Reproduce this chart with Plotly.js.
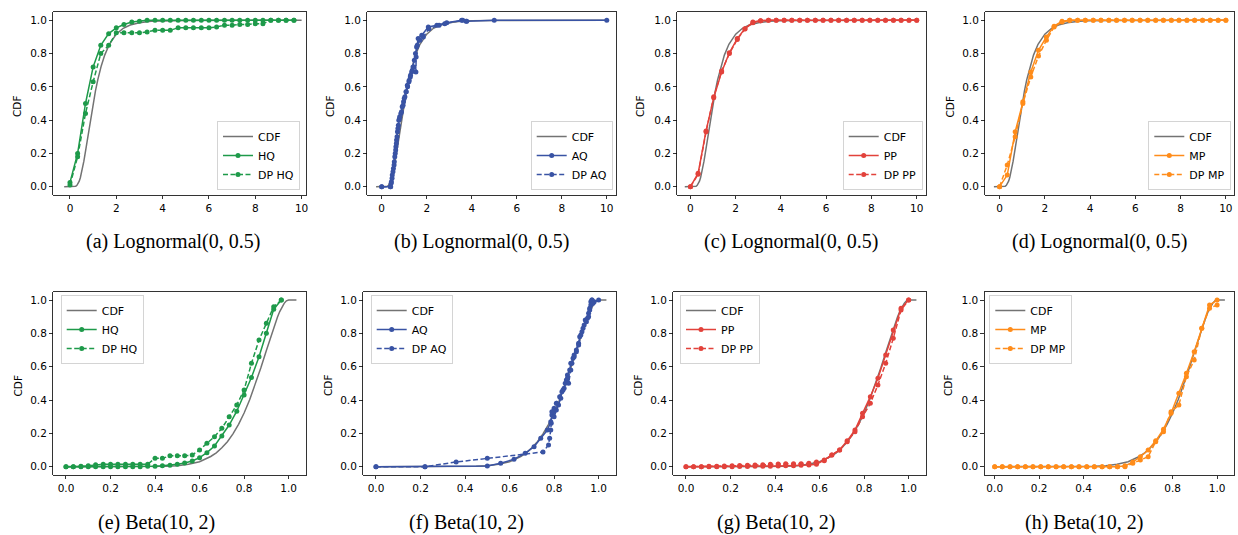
<!DOCTYPE html>
<html>
<head>
<meta charset="utf-8">
<script src="https://cdn.plot.ly/plotly-3.0.1.min.js"></script>
<style>
  html, body { margin: 0; padding: 0; background: #fff; }
  #chart { width: 1238px; height: 535px; }
</style>
</head>
<body>
<div id="chart"></div>
<script>
// ---------------- DATA ----------------
// True CDF curves
const cdfLogX = [-0.25, 0, 0.1, 0.2, 0.25, 0.3, 0.35, 0.4, 0.45, 0.5, 0.6, 0.7, 0.8, 0.9, 1.0, 1.1, 1.2, 1.35, 1.5, 1.7, 2.0, 2.3, 2.6, 3.0, 3.5, 4.0, 5.0, 10.0];
const cdfLogY = [0, 0, 0, 0.0006, 0.0028, 0.008, 0.018, 0.033, 0.055, 0.083, 0.153, 0.238, 0.328, 0.417, 0.5, 0.576, 0.642, 0.726, 0.791, 0.856, 0.917, 0.952, 0.972, 0.986, 0.994, 0.997, 0.9994, 1.0];
const cdfBetaX = [0, 0.1, 0.2, 0.3, 0.4, 0.45, 0.5, 0.55, 0.6, 0.65, 0.675, 0.7, 0.725, 0.75, 0.775, 0.8, 0.825, 0.85, 0.875, 0.9, 0.93, 0.95, 0.96, 0.97, 0.98, 0.99, 1.0, 1.035];
const cdfBetaY = [0, 0, 0, 0, 0.0007, 0.0022, 0.006, 0.014, 0.030, 0.061, 0.083, 0.113, 0.150, 0.197, 0.254, 0.322, 0.402, 0.492, 0.592, 0.697, 0.823, 0.898, 0.931, 0.959, 0.980, 0.995, 1.0, 1.0];

// (a) Lognormal HQ
const hqLogX = [0, 0.33, 0.67, 1.0, 1.33, 1.67, 2.0, 2.33, 2.67, 3.0, 3.33, 3.67, 4.0, 4.33, 4.67, 5.0, 5.33, 5.67, 6.0, 6.33, 6.67, 7.0, 7.33, 7.67, 8.0, 8.33, 8.67, 9.0, 9.33, 9.67];
const hqLogY = [0.025, 0.20, 0.50, 0.72, 0.85, 0.92, 0.955, 0.975, 0.99, 0.995, 1, 1, 1, 1, 1, 1, 1, 1, 1, 1, 1, 1, 1, 1, 1, 1, 1, 1, 1, 1];
const dpHqLogY = [0.01, 0.18, 0.44, 0.63, 0.80, 0.85, 0.925, 0.925, 0.925, 0.925, 0.93, 0.94, 0.94, 0.94, 0.955, 0.955, 0.955, 0.955, 0.955, 0.96, 0.97, 0.97, 0.975, 0.975, 0.98, 0.98, 1.0, 1.0, 1.0, 1.0];

// (b) Lognormal AQ
const aqLogX = [0, 0.40, 0.43, 0.47, 0.52, 0.56, 0.60, 0.63, 0.66, 0.70, 0.74, 0.79, 0.85, 0.91, 0.97, 1.03, 1.09, 1.15, 1.21, 1.27, 1.33, 1.39, 1.45, 1.50, 1.55, 1.62, 1.78, 2.07, 2.45, 2.89, 3.55, 3.78, 5.0, 10.0];
const aqLogY = [0, 0.0, 0.03, 0.07, 0.11, 0.15, 0.20, 0.24, 0.28, 0.33, 0.37, 0.41, 0.44, 0.48, 0.51, 0.54, 0.57, 0.60, 0.63, 0.66, 0.69, 0.72, 0.76, 0.80, 0.84, 0.89, 0.91, 0.96, 0.97, 0.985, 1.0, 0.994, 1.0, 1.0];
const dpAqLogX = [0, 0.38, 0.42, 0.46, 0.50, 0.55, 0.58, 0.62, 0.65, 0.68, 0.72, 0.76, 0.80, 0.88, 0.95, 1.00, 1.08, 1.14, 1.22, 1.28, 1.36, 1.44, 1.52, 1.53, 1.58, 1.70, 1.85, 2.10, 2.55, 2.80, 3.60, 3.75];
const dpAqLogY = [0, 0.0, 0.02, 0.05, 0.09, 0.13, 0.18, 0.22, 0.26, 0.30, 0.35, 0.40, 0.42, 0.45, 0.49, 0.53, 0.57, 0.61, 0.64, 0.67, 0.70, 0.72, 0.69, 0.78, 0.85, 0.88, 0.90, 0.95, 0.97, 0.98, 1.0, 0.995];

// (c),(d) Lognormal PP / MP
const ppLogX = [0, 0.34, 0.69, 1.03, 1.38, 1.72, 2.07, 2.41, 2.76, 3.10, 3.45, 3.79, 4.14, 4.48, 4.83, 5.17, 5.52, 5.86, 6.21, 6.55, 6.90, 7.24, 7.59, 7.93, 8.28, 8.62, 8.97, 9.31, 9.66, 10.0];
const ppLogY = [0, 0.08, 0.335, 0.535, 0.69, 0.805, 0.89, 0.95, 0.985, 0.997, 1, 1, 1, 1, 1, 1, 1, 1, 1, 1, 1, 1, 1, 1, 1, 1, 1, 1, 1, 1];
const dpPpLogY = [0, 0.075, 0.33, 0.54, 0.695, 0.80, 0.885, 0.948, 0.99, 0.998, 1, 1, 1, 1, 1, 1, 1, 1, 1, 1, 1, 1, 1, 1, 1, 1, 1, 1, 1, 1];
const mpLogY = [0, 0.07, 0.33, 0.51, 0.69, 0.82, 0.90, 0.965, 0.995, 1, 1, 1, 1, 1, 1, 1, 1, 1, 1, 1, 1, 1, 1, 1, 1, 1, 1, 1, 1, 1];
const dpMpLogY = [0, 0.13, 0.30, 0.50, 0.66, 0.785, 0.88, 0.96, 0.99, 1, 1, 1, 1, 1, 1, 1, 1, 1, 1, 1, 1, 1, 1, 1, 1, 1, 1, 1, 1, 1];

// (e) Beta HQ
const hqBetaX = [0, 0.033, 0.067, 0.1, 0.133, 0.167, 0.2, 0.233, 0.267, 0.3, 0.333, 0.367, 0.4, 0.433, 0.467, 0.5, 0.533, 0.567, 0.6, 0.633, 0.667, 0.7, 0.733, 0.767, 0.8, 0.833, 0.867, 0.9, 0.933, 0.967];
const hqBetaY = [0, 0, 0, 0, 0, 0, 0, 0, 0, 0, 0, 0.002, 0.003, 0.005, 0.008, 0.014, 0.022, 0.034, 0.054, 0.084, 0.124, 0.184, 0.25, 0.333, 0.43, 0.535, 0.66, 0.80, 0.945, 1.0];
const dpHqBetaY = [0, 0, 0.002, 0.005, 0.012, 0.015, 0.015, 0.015, 0.015, 0.015, 0.015, 0.015, 0.05, 0.05, 0.065, 0.065, 0.065, 0.07, 0.10, 0.14, 0.18, 0.23, 0.30, 0.37, 0.46, 0.62, 0.76, 0.86, 0.96, 1.0];

// (f) Beta AQ
const aqBetaX = [0, 0.22, 0.50, 0.56, 0.62, 0.67, 0.71, 0.74, 0.77, 0.785, 0.79, 0.795, 0.80, 0.81, 0.82, 0.83, 0.835, 0.845, 0.855, 0.86, 0.87, 0.875, 0.885, 0.89, 0.90, 0.91, 0.915, 0.925, 0.935, 0.94, 0.95, 0.955, 0.96, 0.965, 0.97, 0.98, 1.0];
const aqBetaY = [0, 0.0, 0.004, 0.02, 0.045, 0.08, 0.12, 0.17, 0.22, 0.27, 0.31, 0.33, 0.30, 0.34, 0.37, 0.41, 0.45, 0.47, 0.52, 0.55, 0.58, 0.62, 0.65, 0.67, 0.70, 0.74, 0.78, 0.81, 0.85, 0.88, 0.89, 0.92, 0.95, 0.99, 1.0, 0.99, 1.0];
const dpAqBetaX = [0, 0.22, 0.36, 0.50, 0.75, 0.775, 0.78, 0.785, 0.787, 0.79, 0.80, 0.81, 0.825, 0.84, 0.85, 0.86, 0.865, 0.875, 0.88, 0.89, 0.90, 0.91, 0.92, 0.93, 0.945, 0.955, 0.96, 0.965, 0.97, 0.975];
const dpAqBetaY = [0, 0.0, 0.028, 0.05, 0.088, 0.13, 0.17, 0.22, 0.26, 0.33, 0.35, 0.38, 0.42, 0.46, 0.50, 0.53, 0.50, 0.58, 0.62, 0.66, 0.69, 0.73, 0.79, 0.83, 0.87, 0.90, 0.94, 0.97, 1.0, 0.98];

// (g),(h) Beta PP / MP
const ppBetaX = [0, 0.034, 0.069, 0.103, 0.138, 0.172, 0.207, 0.241, 0.276, 0.310, 0.345, 0.379, 0.414, 0.448, 0.483, 0.517, 0.552, 0.586, 0.621, 0.655, 0.690, 0.724, 0.759, 0.793, 0.828, 0.862, 0.897, 0.931, 0.966, 1.0];
const ppBetaY = [0, 0, 0, 0, 0, 0, 0, 0.001, 0.001, 0.002, 0.003, 0.003, 0.004, 0.005, 0.006, 0.008, 0.01, 0.015, 0.04, 0.07, 0.10, 0.155, 0.22, 0.32, 0.42, 0.53, 0.67, 0.82, 0.95, 1.0];
const dpPpBetaY = [0, 0, 0, 0.002, 0.003, 0.004, 0.005, 0.007, 0.008, 0.01, 0.012, 0.014, 0.016, 0.017, 0.018, 0.018, 0.02, 0.028, 0.035, 0.07, 0.10, 0.15, 0.21, 0.30, 0.38, 0.49, 0.62, 0.77, 0.94, 1.0];
const mpBetaY = [0, 0, 0, 0, 0, 0, 0, 0, 0, 0, 0, 0, 0, 0, 0, 0, 0, 0.005, 0.028, 0.06, 0.10, 0.155, 0.225, 0.32, 0.44, 0.56, 0.69, 0.83, 0.97, 1.0];
const dpMpBetaY = [0, 0, 0, 0, 0, 0, 0, 0, 0, 0, 0, 0, 0, 0, 0, 0, 0, 0, 0.02, 0.04, 0.06, 0.15, 0.21, 0.33, 0.37, 0.54, 0.64, 0.83, 0.95, 0.97];

const seriesNames = ['HQ', 'AQ', 'PP', 'MP'];
const captions = ['(a) Lognormal(0, 0.5)', '(b) Lognormal(0, 0.5)', '(c) Lognormal(0, 0.5)', '(d) Lognormal(0, 0.5)',
                  '(e) Beta(10, 2)', '(f) Beta(10, 2)', '(g) Beta(10, 2)', '(h) Beta(10, 2)'];
const rowXTicks = [[0, 2, 4, 6, 8, 10], [0, 0.2, 0.4, 0.6, 0.8, 1.0]];
const yTicks = [0, 0.2, 0.4, 0.6, 0.8, 1.0];

// ---------------- STYLE / LAYOUT ----------------
const W = 1238, H = 535;
const colors = ['#1e9a4a', '#3953a4', '#e2423b', '#ff8c1a'];
const grey = '#737373';

const panels = [
  {cx: cdfLogX, cy: cdfLogY, sx: hqLogX, sy: hqLogY, dx: hqLogX, dy: dpHqLogY},
  {cx: cdfLogX, cy: cdfLogY, sx: aqLogX, sy: aqLogY, dx: dpAqLogX, dy: dpAqLogY},
  {cx: cdfLogX, cy: cdfLogY, sx: ppLogX, sy: ppLogY, dx: ppLogX, dy: dpPpLogY},
  {cx: cdfLogX, cy: cdfLogY, sx: ppLogX, sy: mpLogY, dx: ppLogX, dy: dpMpLogY},
  {cx: cdfBetaX, cy: cdfBetaY, sx: hqBetaX, sy: hqBetaY, dx: hqBetaX, dy: dpHqBetaY},
  {cx: cdfBetaX, cy: cdfBetaY, sx: aqBetaX, sy: aqBetaY, dx: dpAqBetaX, dy: dpAqBetaY},
  {cx: cdfBetaX, cy: cdfBetaY, sx: ppBetaX, sy: ppBetaY, dx: ppBetaX, dy: dpPpBetaY},
  {cx: cdfBetaX, cy: cdfBetaY, sx: ppBetaX, sy: mpBetaY, dx: ppBetaX, dy: dpMpBetaY}
];

// pixel geometry of each axes box
const boxes = [
  {l: 53.3, r: 306, range: [-0.72, 10.19], capX: 173, labX: 17, leg: {x: 300, y: 190, xa: 'right', ya: 'bottom'}},
  {l: 367.3, r: 616, range: [-0.64, 10.41], capX: 482, labX: 330, leg: {x: 612.7, y: 190, xa: 'right', ya: 'bottom'}},
  {l: 677.3, r: 926, range: [-0.58, 10.41], capX: 791, labX: 640, leg: {x: 922.7, y: 190, xa: 'right', ya: 'bottom'}},
  {l: 985.3, r: 1234, range: [-0.63, 10.36], capX: 1100, labX: 949.5, leg: {x: 1231.3, y: 190, xa: 'right', ya: 'bottom'}},
  {l: 53.3, r: 306, range: [-0.057, 1.078], capX: 156, labX: 17.5, leg: {x: 60.7, y: 295, xa: 'left', ya: 'top'}},
  {l: 363.3, r: 616, range: [-0.057, 1.078], capX: 466, labX: 328, leg: {x: 370.7, y: 295, xa: 'left', ya: 'top'}},
  {l: 673.3, r: 926, range: [-0.057, 1.078], capX: 776, labX: 638, leg: {x: 680, y: 295, xa: 'left', ya: 'top'}},
  {l: 984.7, r: 1234, range: [-0.045, 1.076], capX: 1084, labX: 948, leg: {x: 989.3, y: 295, xa: 'left', ya: 'top'}}
];
const rows = [
  {top: 12, bottom: 195, capY: 241, labY: 107},
  {top: 291.7, bottom: 475, capY: 522, labY: 386}
];

const traces = [];
const layout = {
  width: W, height: H,
  margin: {l: 0, r: 0, t: 0, b: 0, pad: 0},
  paper_bgcolor: '#fff', plot_bgcolor: '#fff',
  font: {family: 'DejaVu Sans', size: 10.5, color: '#000'},
  showlegend: true,
  annotations: []
};

panels.forEach((p, i) => {
  const row = i < 4 ? 0 : 1;
  const col = i % 4;
  const b = boxes[i];
  const r = rows[row];
  const xn = i === 0 ? 'x' : 'x' + (i + 1);
  const yn = i === 0 ? 'y' : 'y' + (i + 1);
  const ln = i === 0 ? 'legend' : 'legend' + (i + 1);
  const color = colors[col];
  const nm = seriesNames[col];

  traces.push({x: p.cx, y: p.cy, xaxis: xn, yaxis: yn, legend: ln, name: 'CDF', mode: 'lines',
               line: {color: grey, width: 1.5}, hoverinfo: 'skip'});
  traces.push({x: p.sx, y: p.sy, xaxis: xn, yaxis: yn, legend: ln, name: nm, mode: 'lines+markers',
               line: {color: color, width: 1.5}, marker: {color: color, size: 5}});
  traces.push({x: p.dx, y: p.dy, xaxis: xn, yaxis: yn, legend: ln, name: 'DP ' + nm, mode: 'lines+markers',
               line: {color: color, width: 1.5, dash: '5px,2.5px'}, marker: {color: color, size: 5}});

  const axCommon = {
    showline: true, mirror: true, linecolor: '#000', linewidth: 0.8,
    ticks: 'outside', ticklen: 3.5, tickwidth: 0.8, tickcolor: '#000',
    showgrid: false, zeroline: false, fixedrange: true,
    tickfont: {family: 'DejaVu Sans', size: 10.5, color: '#000'}
  };
  layout[i === 0 ? 'xaxis' : 'xaxis' + (i + 1)] = Object.assign({}, axCommon, {
    domain: [b.l / W, b.r / W], range: b.range, anchor: yn,
    tickmode: 'array', tickvals: rowXTicks[row],
    tickformat: row === 0 ? 'd' : '.1f'
  });
  layout[i === 0 ? 'yaxis' : 'yaxis' + (i + 1)] = Object.assign({}, axCommon, {
    domain: [1 - r.bottom / H, 1 - r.top / H], range: [-0.05, 1.05], anchor: xn,
    tickmode: 'array', tickvals: yTicks, tickformat: '.1f'
  });
  layout[ln] = {
    x: b.leg.x / W, y: 1 - b.leg.y / H, xanchor: b.leg.xa, yanchor: b.leg.ya,
    xref: 'paper', yref: 'paper',
    bgcolor: 'rgba(255,255,255,0.85)', bordercolor: '#d4d4d4', borderwidth: 1,
    font: {family: 'DejaVu Sans', size: 11, color: '#000'},
    itemwidth: 30, tracegroupgap: 0, traceorder: 'normal'
  };
  layout.annotations.push({
    xref: 'paper', yref: 'paper', x: b.labX / W, y: 1 - r.labY / H,
    text: 'CDF', textangle: -90, showarrow: false, xanchor: 'center', yanchor: 'middle',
    font: {family: 'DejaVu Sans', size: 10.5, color: '#000'}
  });
  layout.annotations.push({
    xref: 'paper', yref: 'paper', x: b.capX / W, y: 1 - r.capY / H,
    text: captions[i], showarrow: false, xanchor: 'center', yanchor: 'middle',
    font: {family: 'Liberation Serif', size: 20, color: '#000'}
  });
});

Plotly.newPlot('chart', traces, layout, {staticPlot: true, displayModeBar: false});
</script>
</body>
</html>
